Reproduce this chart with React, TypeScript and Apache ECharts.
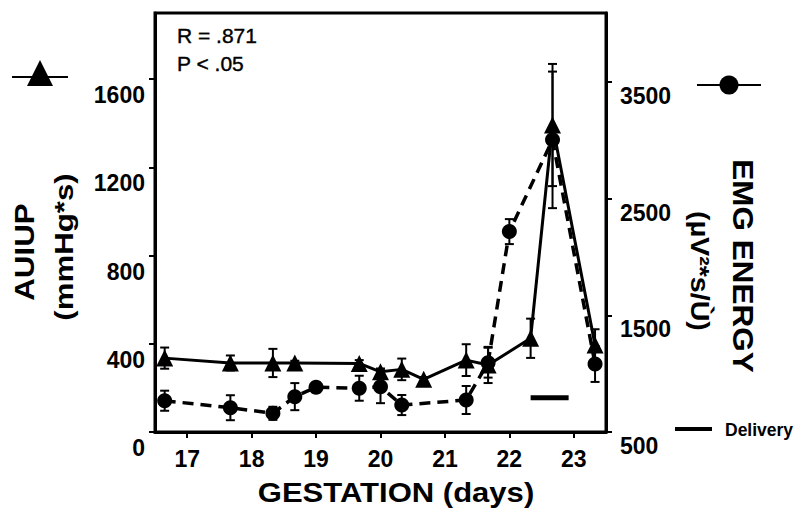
import React, { useEffect, useRef } from "react";
import * as echarts from "echarts";

// Gestation day (x), AUIUP (left axis, triangles), EMG energy (right axis, circles)
const auiupDays = [16.65, 17.67, 18.33, 18.67, 19.67, 20.0, 20.33, 20.67, 21.33, 21.67, 22.33, 22.67, 23.33];
const auiupValues = [335, 313, 313, 313, 311, 273, 284, 239, 326, 304, 425, 1392, 394];
const auiupErrors = [48, 34, 64, 10, 15, 15, 49, 10, 72, 82, 89, 277, 72];

const emgDays = [16.65, 17.67, 18.33, 18.67, 19.0, 19.67, 20.0, 20.33, 21.33, 21.67, 22.0, 22.67, 23.33];
const emgValues = [768, 708, 660, 803, 883, 875, 888, 731, 774, 1094, 2217, 3003, 1083];
const emgErrors = [86, 107, 56, 116, 43, 107, 141, 86, 120, 128, 107, 585, 154];

const deliveryDays = [22.33, 22.92];
const deliveryLevel = 155;

const xTicks = [17, 18, 19, 20, 21, 22, 23];
const leftTicks = [0, 400, 800, 1200, 1600];
const rightTicks = [500, 1500, 2500, 3500];

const FONT = "'Liberation Sans', Arial, sans-serif";

function errorBarSeries(name: string, days: number[], vals: number[], errs: number[], yAxisIndex: number) {
  return {
    name,
    type: "custom",
    xAxisIndex: 0,
    yAxisIndex,
    encode: { x: 0, y: 1 },
    z: 1,
    data: days.map((d, i) => [d, vals[i], errs[i]]),
    renderItem: (params: any, api: any) => {
      const x = api.value(0);
      const y = api.value(1);
      const e = api.value(2);
      const top = api.coord([x, y + e]);
      const bot = api.coord([x, y - e]);
      const hw = 4.5;
      const st = { stroke: "#000", lineWidth: 2 };
      return {
        type: "group",
        children: [
          { type: "line", shape: { x1: top[0], y1: top[1], x2: bot[0], y2: bot[1] }, style: st },
          { type: "line", shape: { x1: top[0] - hw, y1: top[1], x2: top[0] + hw, y2: top[1] }, style: st },
          { type: "line", shape: { x1: bot[0] - hw, y1: bot[1], x2: bot[0] + hw, y2: bot[1] }, style: st },
        ],
      };
    },
  };
}

export default function App() {
  const ref = useRef<HTMLDivElement>(null);
  useEffect(() => {
    if (!ref.current) return;
    const chart = echarts.init(ref.current, null, { renderer: "svg" });
    const option: any = {
      animation: false,
      backgroundColor: "#fff",
      textStyle: { fontFamily: FONT },
      grid: {
        left: 155,
        right: 194,
        top: 13,
        bottom: 85,
        show: true,
        borderColor: "#000",
        borderWidth: 3,
        backgroundColor: "transparent",
      },
      xAxis: {
        type: "value",
        min: 16.5,
        max: 23.5,
        splitLine: { show: false },
        axisLine: { show: true, lineStyle: { color: "#000", width: 3 } },
        axisTick: { show: true, inside: false, length: 6, lineStyle: { color: "#000", width: 2 }, customValues: xTicks },
        axisLabel: {
          customValues: xTicks,
          formatter: (v: number) => String(v),
          color: "#000",
          fontFamily: FONT,
          fontWeight: "bold",
          fontSize: 23,
          margin: 15,
        },
      },
      yAxis: [
        {
          type: "value",
          position: "left",
          min: 0,
          max: 1900,
          splitLine: { show: false },
          axisLine: { show: true, lineStyle: { color: "#000", width: 3 } },
          axisTick: { show: true, inside: false, length: 6, lineStyle: { color: "#000", width: 2 }, customValues: leftTicks },
          axisLabel: {
            customValues: leftTicks,
            formatter: (v: number) => String(v),
            color: "#000",
            fontFamily: FONT,
            fontWeight: "bold",
            fontSize: 23,
            margin: 10,
            verticalAlign: "top",
            lineHeight: 24,
            padding: [4, 0, 0, 0],
          },
        },
        {
          type: "value",
          position: "right",
          min: 500,
          max: 4090,
          splitLine: { show: false },
          axisLine: { show: true, lineStyle: { color: "#000", width: 3 } },
          axisTick: { show: true, inside: false, length: 6, lineStyle: { color: "#000", width: 2 }, customValues: rightTicks },
          axisLabel: {
            customValues: rightTicks,
            formatter: (v: number) => String(v),
            color: "#000",
            fontFamily: FONT,
            fontWeight: "bold",
            fontSize: 23,
            margin: 14,
            verticalAlign: "top",
            lineHeight: 24,
            padding: [2, 0, 0, 0],
          },
        },
      ],
      series: [
        errorBarSeries("AUIUP err", auiupDays, auiupValues, auiupErrors, 0),
        errorBarSeries("EMG err", emgDays, emgValues, emgErrors, 1),
        {
          name: "EMG ENERGY",
          type: "line",
          yAxisIndex: 1,
          z: 3,
          data: emgDays.map((d, i) => [d, emgValues[i]]),
          symbol: "circle",
          symbolSize: 15,
          itemStyle: { color: "#000" },
          lineStyle: { color: "#000", width: 3.5, type: [11, 7] },
        },
        {
          name: "AUIUP",
          type: "line",
          yAxisIndex: 0,
          z: 4,
          data: auiupDays.map((d, i) => [d, auiupValues[i]]),
          symbol: "triangle",
          symbolSize: 17,
          itemStyle: { color: "#000" },
          lineStyle: { color: "#000", width: 3 },
        },
        {
          name: "Delivery",
          type: "line",
          yAxisIndex: 0,
          z: 2,
          data: deliveryDays.map((d) => [d, deliveryLevel]),
          showSymbol: false,
          symbol: "none",
          lineStyle: { color: "#000", width: 5 },
        },
      ],
      graphic: [
        { type: "text", x: 177, y: 35, style: { text: "R = .871", fontFamily: FONT, fontSize: 21, fill: "#000", stroke: "#000", lineWidth: 0.4, align: "left", verticalAlign: "middle" } },
        { type: "text", x: 177, y: 63, style: { text: "P < .05", fontFamily: FONT, fontSize: 21, fill: "#000", stroke: "#000", lineWidth: 0.4, align: "left", verticalAlign: "middle" } },
        // left legend symbol
        { type: "line", shape: { x1: 12, y1: 77, x2: 68, y2: 77 }, style: { stroke: "#000", lineWidth: 2 } },
        { type: "polygon", shape: { points: [[27, 86], [53, 86], [40, 60]] }, style: { fill: "#000" } },
        // right legend symbol
        { type: "line", shape: { x1: 697, y1: 85, x2: 761, y2: 85 }, style: { stroke: "#000", lineWidth: 2 } },
        { type: "circle", shape: { cx: 729, cy: 85, r: 9.5 }, style: { fill: "#000" } },
        // delivery legend
        { type: "line", shape: { x1: 675, y1: 429, x2: 712, y2: 429 }, style: { stroke: "#000", lineWidth: 4 } },
        { type: "text", x: 725, y: 430, style: { text: "Delivery", fontFamily: FONT, fontSize: 17.5, fontWeight: "bold", fill: "#000", align: "left", verticalAlign: "middle" } },
        // axis titles
        { type: "text", x: 396, y: 493, scaleX: 1.15, style: { text: "GESTATION (days)", fontFamily: FONT, fontSize: 27, fontWeight: "bold", fill: "#000", align: "center", verticalAlign: "middle" } },
        { type: "text", x: 24, y: 252, rotation: Math.PI / 2, scaleX: 1.12, style: { text: "AUIUP", fontFamily: FONT, fontSize: 28, fontWeight: "bold", fill: "#000", align: "center", verticalAlign: "middle" } },
        { type: "text", x: 64, y: 247, rotation: Math.PI / 2, scaleX: 1.2, style: { text: "(mmHg*s)", fontFamily: FONT, fontSize: 26, fontWeight: "bold", fill: "#000", align: "center", verticalAlign: "middle" } },
        { type: "text", x: 743, y: 266, rotation: -Math.PI / 2, scaleX: 1.05, style: { text: "EMG ENERGY", fontFamily: FONT, fontSize: 30, fontWeight: "bold", fill: "#000", align: "center", verticalAlign: "middle" } },
        { type: "text", x: 700, y: 271, rotation: -Math.PI / 2, scaleX: 1.1, style: { text: "(µV²*s/Ù)", fontFamily: FONT, fontSize: 26, fontWeight: "bold", fill: "#000", align: "center", verticalAlign: "middle" } },
      ],
    };
    chart.setOption(option);
    return () => chart.dispose();
  }, []);
  return <div ref={ref} style={{ width: 800, height: 517, position: "absolute", left: 0, top: 0 }} />;
}
